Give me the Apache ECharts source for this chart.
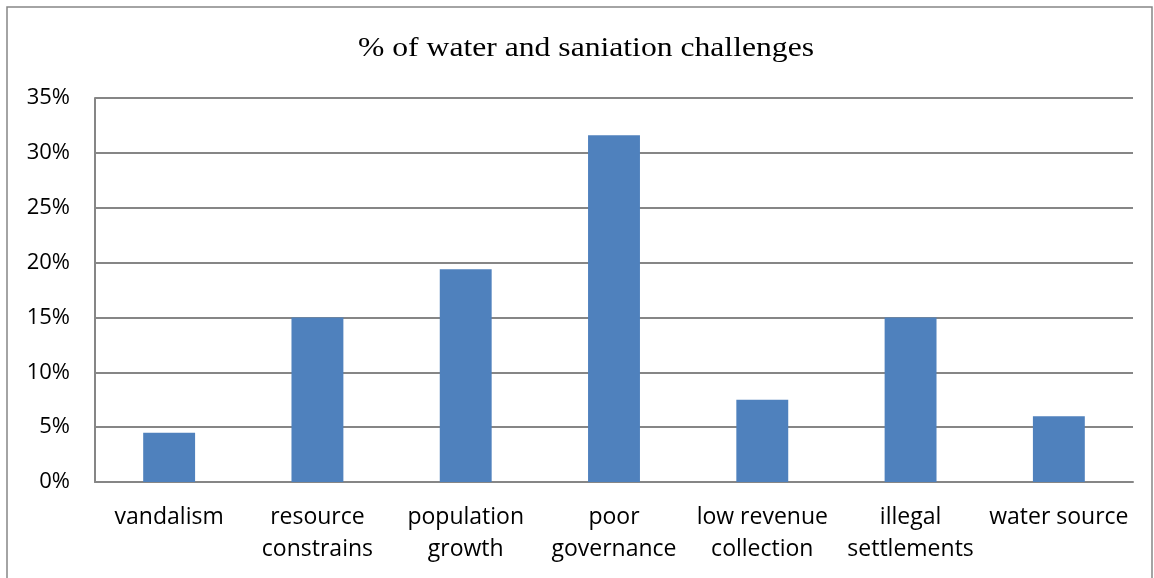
<!DOCTYPE html>
<html>
<head>
<meta charset="utf-8">
<script src="https://cdn.jsdelivr.net/npm/echarts@6/dist/echarts.min.js"></script>
<style>
  html, body { margin: 0; padding: 0; background: #fff; }
  #chart { width: 1154px; height: 578px; }
</style>
</head>
<body>
<div id="chart"></div>
<script>
// Survey results: share of respondents naming each challenge
const titleText = '% of water and saniation challenges';
const categories = [
  'vandalism',
  'resource\nconstrains',
  'population\ngrowth',
  'poor\ngovernance',
  'low revenue\ncollection',
  'illegal\nsettlements',
  'water source'
];
const values = [4.5, 15, 19.4, 31.6, 7.5, 15, 6];
const yTicks = { min: 0, max: 35, interval: 5 };

const chart = echarts.init(document.getElementById('chart'), null, { renderer: 'canvas' });

chart.setOption({
  animation: false,
  backgroundColor: '#ffffff',
  graphic: [
    {
      // outer chart frame
      type: 'rect',
      shape: { x: 7, y: 7, width: 1145, height: 600 },
      style: { fill: 'none', stroke: '#868686', lineWidth: 1.5 },
      silent: true
    },
    {
      // condensed serif heading
      type: 'text',
      x: 586,
      y: 49,
      scaleX: 1.13,
      style: {
        text: titleText,
        fontFamily: 'Liberation Serif',
        fontSize: 28,
        fill: '#000',
        align: 'center',
        verticalAlign: 'middle'
      },
      silent: true
    }
  ],
  grid: { left: 95, right: 21, top: 98, bottom: 96, containLabel: false },
  xAxis: {
    type: 'category',
    data: categories,
    axisLine: { lineStyle: { color: '#868686', width: 2 } },
    axisTick: { show: false },
    axisLabel: {
      interval: 0,
      margin: 19,
      fontFamily: 'Open Sans',
      fontSize: 23,
      lineHeight: 32,
      color: '#000'
    }
  },
  yAxis: {
    type: 'value',
    min: yTicks.min,
    max: yTicks.max,
    interval: yTicks.interval,
    axisLine: { show: true, lineStyle: { color: '#868686', width: 2 } },
    axisTick: { show: false },
    splitLine: { lineStyle: { color: '#868686', width: 2 } },
    axisLabel: {
      formatter: v => v + '%',
      margin: 25,
      fontFamily: 'Open Sans',
      fontSize: 22,
      color: '#000'
    }
  },
  series: [{
    type: 'bar',
    data: values,
    barWidth: '35%',
    itemStyle: { color: '#4f81bd' }
  }]
});
</script>
</body>
</html>
